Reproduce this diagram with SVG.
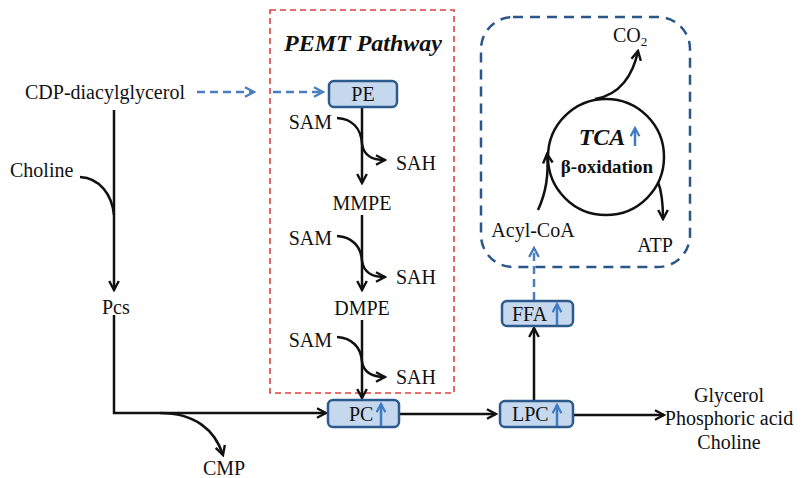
<svg xmlns="http://www.w3.org/2000/svg" width="801" height="478" viewBox="0 0 801 478">
<style>
text{font-family:"Liberation Serif","Times New Roman",Tinos,"Noto Serif","DejaVu Serif",serif;font-size:20px;fill:#111}
.c{text-anchor:middle}
.e{text-anchor:end}
.ln{fill:none;stroke:#111;stroke-width:2.5}
.bl{fill:none;stroke:#3f7cc4;stroke-width:2.5}
.bd{fill:none;stroke:#4a7ebf;stroke-width:2.5;stroke-dasharray:8 5}
.box{fill:#c6d8ee;stroke:#2c5a8c;stroke-width:2.5}
text.ttl{font-weight:bold;font-style:italic;font-size:24px}
text.tca{font-weight:bold;font-style:italic;font-size:24px}
text.box2{font-weight:bold;font-size:19px}
tspan.sub{font-size:13px}
</style>
<defs>
<marker id="ah" viewBox="0 0 10 10" refX="8.5" refY="5" markerWidth="12" markerHeight="12" markerUnits="userSpaceOnUse" orient="auto">
<path d="M1,1 L8.5,5 L1,9" fill="none" stroke="#111" stroke-width="2"/>
</marker>
<marker id="ahb" viewBox="0 0 10 10" refX="8.5" refY="5" markerWidth="12" markerHeight="12" markerUnits="userSpaceOnUse" orient="auto">
<path d="M1,1 L8.5,5 L1,9" fill="none" stroke="#4a7ebf" stroke-width="2"/>
</marker>
<marker id="ahu" viewBox="0 0 10 10" refX="8.5" refY="5" markerWidth="11" markerHeight="11" markerUnits="userSpaceOnUse" orient="auto">
<path d="M1,1 L8.5,5 L1,9" fill="none" stroke="#3f7cc4" stroke-width="2"/>
</marker>
</defs>

<g id="pemt-frame">
<rect x="270" y="10" width="184" height="383" fill="none" stroke="#e0403f" stroke-width="1.6" stroke-dasharray="6 4"/>
<text x="363" y="51" class="c ttl">PEMT Pathway</text>
</g>

<g id="mito-frame">
<rect x="481" y="17" width="209" height="250" rx="32" fill="none" stroke="#2a5688" stroke-width="2.5" stroke-dasharray="10 7"/>
</g>

<g id="connectors">
<path class="bd" d="M197,92 H254" marker-end="url(#ahb)"/>
<path class="bd" d="M273,92 H323" marker-end="url(#ahb)"/>
<path class="ln" d="M114,110 V290" marker-end="url(#ah)"/>
<path class="ln" d="M80,177 C100,178 112,195 114,215"/>
<path class="ln" d="M114,315 V413 H326" marker-end="url(#ah)"/>
<path class="ln" d="M160,413 C195,413 215,430 223,455" marker-end="url(#ah)"/>
<path class="ln" d="M362,107 V183" marker-end="url(#ah)"/>
<path class="ln" d="M337,118 C352,119 361,128 362,144 C364,156 372,160 385,160" marker-end="url(#ah)"/>
<path class="ln" d="M362,215 V290" marker-end="url(#ah)"/>
<path class="ln" d="M337,236 C352,237 361,246 362,261 C364,273 372,277 385,277" marker-end="url(#ah)"/>
<path class="ln" d="M362,320 V398" marker-end="url(#ah)"/>
<path class="ln" d="M337,337 C352,338 361,347 362,362 C364,373 372,377 385,377" marker-end="url(#ah)"/>
<path class="ln" d="M400,414 H496" marker-end="url(#ah)"/>
<path class="ln" d="M574,415 H664" marker-end="url(#ah)"/>
<path class="ln" d="M534,401 V328" marker-end="url(#ah)"/>
<path class="bd" d="M534,300 V248" marker-end="url(#ahb)"/>
<circle cx="606" cy="157" r="58" fill="none" stroke="#111" stroke-width="2.5"/>
<path class="ln" d="M538,210 C545,195 549,175 547,154" marker-end="url(#ah)"/>
<path class="ln" d="M595,99 C620,95 633,75 638,51" marker-end="url(#ah)"/>
<path class="ln" d="M658,182 C662,192 663,205 663,219" marker-end="url(#ah)"/>
</g>

<g id="node-cdp"><text x="25" y="99">CDP-diacylglycerol</text></g>
<g id="node-choline"><text x="10" y="177">Choline</text></g>
<g id="node-pcs"><text x="102" y="314">Pcs</text></g>
<g id="node-cmp"><text x="224" y="475" class="c">CMP</text></g>

<g id="node-pe">
<rect class="box" x="329" y="81" width="68" height="26" rx="5"/>
<text x="363" y="101" class="c">PE</text>
</g>
<g id="node-sam1"><text x="332" y="129" class="e">SAM</text></g>
<g id="node-sah1"><text x="396" y="170">SAH</text></g>
<g id="node-mmpe"><text x="362" y="210" class="c">MMPE</text></g>
<g id="node-sam2"><text x="332" y="245" class="e">SAM</text></g>
<g id="node-sah2"><text x="396" y="284">SAH</text></g>
<g id="node-dmpe"><text x="362" y="315" class="c">DMPE</text></g>
<g id="node-sam3"><text x="332" y="347" class="e">SAM</text></g>
<g id="node-sah3"><text x="396" y="384">SAH</text></g>

<g id="node-pc">
<rect class="box" x="328" y="400" width="71" height="27" rx="5"/>
<text x="349" y="421">PC</text>
<path class="bl" d="M381,426 V404" marker-end="url(#ahu)"/>
</g>
<g id="node-lpc">
<rect class="box" x="500" y="401" width="73" height="26" rx="5"/>
<text x="512" y="421">LPC</text>
<path class="bl" d="M557,426 V405" marker-end="url(#ahu)"/>
</g>
<g id="node-ffa">
<rect class="box" x="502" y="301" width="71" height="25" rx="5"/>
<text x="512" y="321">FFA</text>
<path class="bl" d="M557,325 V304" marker-end="url(#ahu)"/>
</g>
<g id="node-products">
<text x="729" y="402" class="c">Glycerol</text>
<text x="729" y="425" class="c">Phosphoric acid</text>
<text x="729" y="449" class="c">Choline</text>
</g>

<g id="node-tca">
<text x="602" y="145" class="c tca">TCA</text>
<path class="bl" d="M635,146 V128" marker-end="url(#ahu)"/>
<text x="607" y="173" class="c box2">β-oxidation</text>
</g>
<g id="node-co2"><text x="613" y="42">CO<tspan dy="4" class="sub">2</tspan></text></g>
<g id="node-acyl"><text x="533" y="237" class="c">Acyl-CoA</text></g>
<g id="node-atp"><text x="655" y="252" class="c">ATP</text></g>
</svg>
